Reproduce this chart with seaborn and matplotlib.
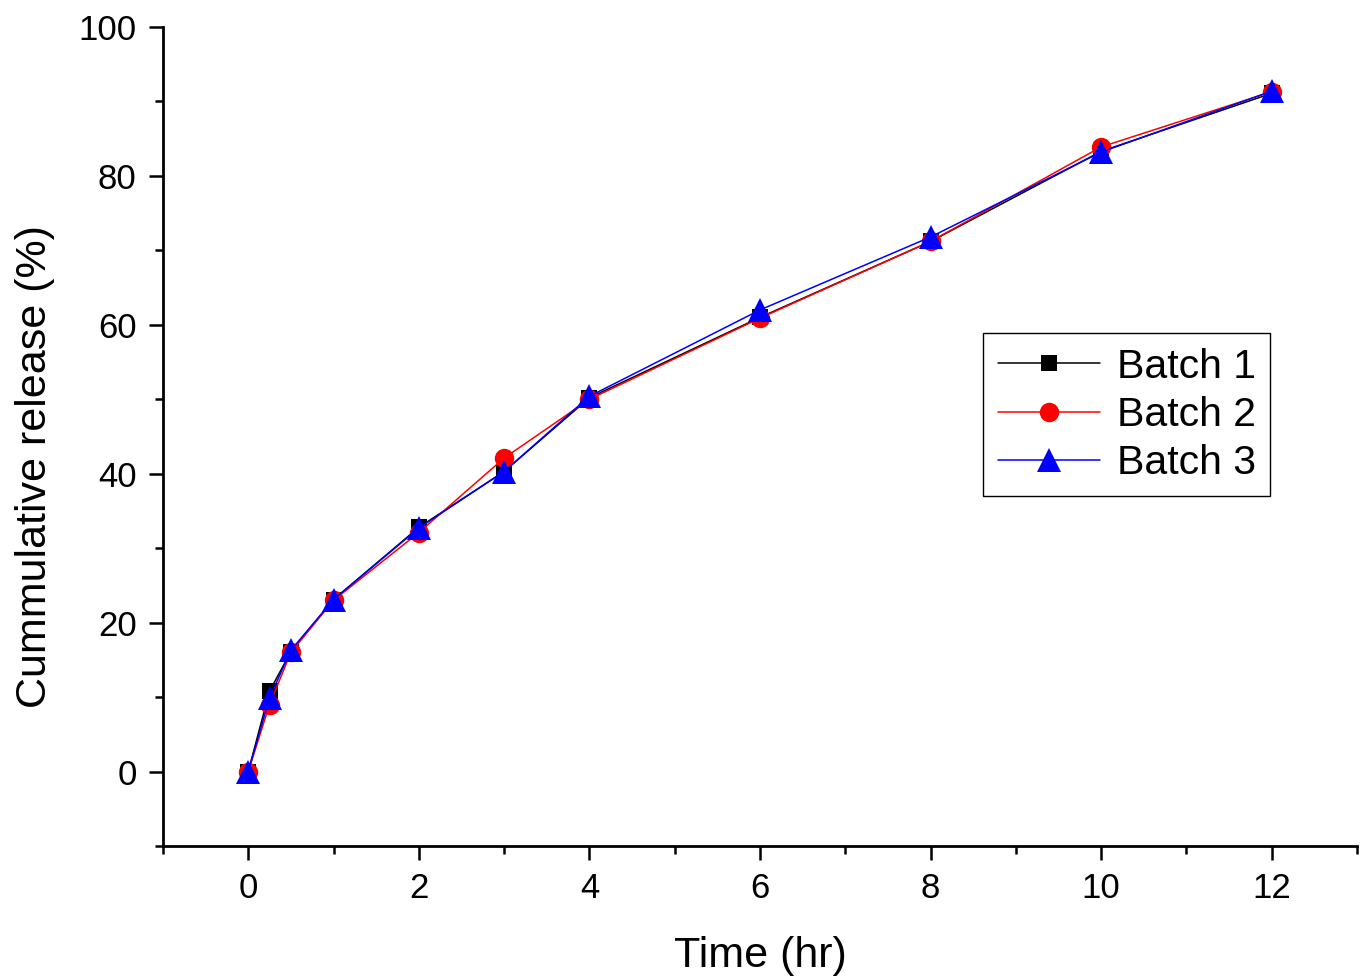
import matplotlib
matplotlib.use("Agg")
import matplotlib.pyplot as plt
from matplotlib.ticker import MultipleLocator
import seaborn as sns
import pandas as pd

time_hr = [0, 0.25, 0.5, 1, 2, 3, 4, 6, 8, 10, 12]
batch1 = [0, 10.8, 16.1, 23.1, 32.8, 40.3, 50.2, 61.0, 71.2, 83.3, 91.1]
batch2 = [0, 9.0, 16.0, 23.0, 32.1, 42.1, 50.0, 60.9, 71.2, 83.9, 91.3]
batch3 = [0, 9.9, 16.3, 23.1, 32.7, 40.3, 50.4, 62.0, 71.8, 83.2, 91.4]
series_names = ["Batch 1", "Batch 2", "Batch 3"]

rows = []
for name, vals in zip(series_names, [batch1, batch2, batch3]):
    for t, v in zip(time_hr, vals):
        rows.append({"Time": t, "Release": v, "Batch": name})
df = pd.DataFrame(rows)

sns.set_theme(style="ticks")
plt.rcParams['font.family'] = ['Liberation Sans', 'DejaVu Sans']
plt.rcParams['text.color'] = 'black'
plt.rcParams['axes.labelcolor'] = 'black'

fig = plt.figure(figsize=(13.67, 9.76), dpi=100)
ax = fig.add_axes([0.1192, 0.1332, 0.8735, 0.8391])

sns.lineplot(data=df, x="Time", y="Release", hue="Batch", style="Batch",
             palette={"Batch 1": "black", "Batch 2": "#ff0000", "Batch 3": "#0000ff"},
             markers={"Batch 1": "s", "Batch 2": "o", "Batch 3": "^"},
             dashes=False, linewidth=1.1, markersize=14, markeredgewidth=0,
             ax=ax, legend=True)
sizes = {"s": 12, "o": 14, "^": 17}
for line in ax.get_lines():
    m = line.get_marker()
    if m in sizes:
        line.set_markersize(sizes[m])

ax.set_xlim(-1, 13)
ax.set_ylim(-10, 100)
ax.xaxis.set_major_locator(MultipleLocator(2))
ax.xaxis.set_minor_locator(MultipleLocator(1))
ax.yaxis.set_major_locator(MultipleLocator(20))
ax.yaxis.set_minor_locator(MultipleLocator(10))

for s in ["top", "right"]:
    ax.spines[s].set_visible(False)
for s in ["left", "bottom"]:
    ax.spines[s].set_linewidth(2.0)
    ax.spines[s].set_color("black")

ax.tick_params(which="major", direction="out", length=10, width=1.8, labelsize=25,
               colors="black", labelcolor="black", pad=9)
ax.tick_params(which="minor", direction="out", length=6, width=1.8, colors="black")

ax.set_xlabel("Time (hr)", fontsize=31, labelpad=22, color="black")
ax.set_ylabel("Cummulative release (%)", fontsize=31, color="black")
ax.yaxis.set_label_coords(-0.09, 0.463)

leg = ax.legend(loc="upper right", bbox_to_anchor=(0.927, 0.626), borderaxespad=0,
                fontsize=29.5, frameon=True, fancybox=False, edgecolor="black", framealpha=1,
                handlelength=2.5, borderpad=0.35, labelspacing=0.25, handletextpad=0.4,
                markerscale=1.0)
leg.get_frame().set_linewidth(1.0)
for t in leg.get_texts():
    t.set_color("black")

fig.savefig("out.png", dpi=100)
